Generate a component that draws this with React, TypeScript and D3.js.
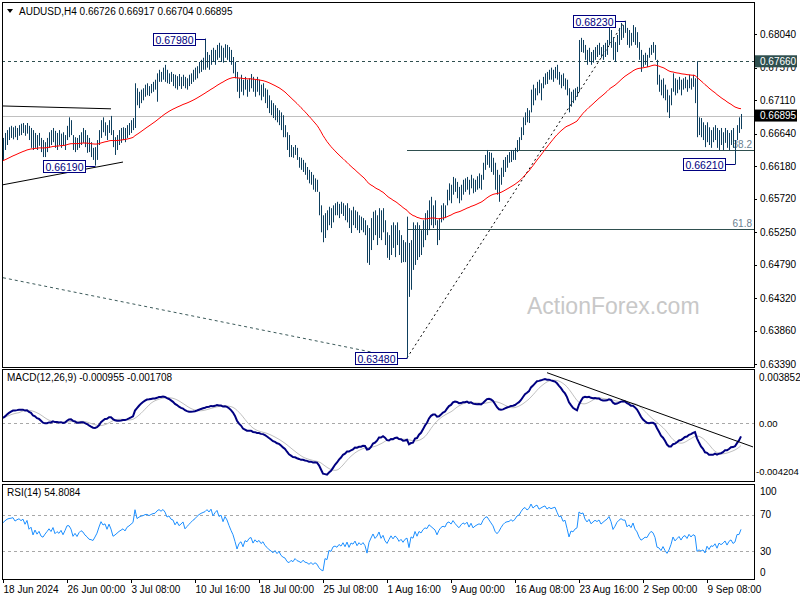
import React from "react";
import * as d3 from "d3";

// ---------- DATA (prices in 1/10000 units) ----------
const highsP = [
  6658, 6665, 6669, 6673, 6675, 6673, 6675, 6672, 6676, 6678,
  6679, 6676, 6679, 6675, 6672, 6669, 6665, 6662, 6665, 6658,
  6655, 6652, 6658, 6666, 6669, 6672, 6668, 6665, 6669, 6664,
  6666, 6662, 6675, 6687, 6683, 6662, 6659, 6658, 6662, 6666,
  6672, 6669, 6662, 6658, 6652, 6644, 6645, 6655, 6669, 6683,
  6687, 6680, 6676, 6683, 6689, 6669, 6659, 6662, 6669, 6672,
  6673, 6672, 6676, 6679, 6683, 6686, 6735, 6728, 6723, 6726,
  6728, 6733, 6735, 6731, 6734, 6737, 6740, 6749, 6754, 6751,
  6757, 6761, 6754, 6749, 6751, 6748, 6747, 6745, 6748, 6744,
  6747, 6744, 6742, 6747, 6749, 6754, 6757, 6759, 6765, 6768,
  6771, 6798, 6779, 6775, 6782, 6785, 6782, 6789, 6792, 6788,
  6785, 6790, 6789, 6786, 6782, 6772, 6765, 6751, 6742, 6747,
  6740, 6744, 6740, 6742, 6748, 6744, 6740, 6744, 6740, 6733,
  6735, 6728, 6726, 6718, 6711, 6707, 6704, 6700, 6697, 6694,
  6690, 6676, 6666, 6662, 6648, 6645, 6648, 6644, 6631, 6630,
  6627, 6623, 6617, 6613, 6610, 6606, 6601, 6599, 6582, 6563,
  6549, 6552, 6556, 6561, 6559, 6563, 6566, 6568, 6565, 6568,
  6566, 6563, 6566, 6559, 6556, 6561, 6556, 6554, 6549, 6547,
  6545, 6542, 6535, 6531, 6545, 6554, 6556, 6549, 6559, 6556,
  6559, 6542, 6525, 6521, 6535, 6539, 6535, 6539, 6528, 6521,
  6514, 6511, 6547, 6510, 6514, 6539, 6535, 6539, 6535, 6528,
  6542, 6552, 6556, 6570, 6575, 6563, 6570, 6542, 6545, 6563,
  6566, 6563, 6585, 6594, 6592, 6603, 6601, 6596, 6589, 6592,
  6599, 6601, 6603, 6599, 6606, 6601, 6599, 6604, 6608, 6606,
  6623, 6634, 6641, 6638, 6637, 6630, 6623, 6613, 6606, 6616,
  6627, 6631, 6634, 6638, 6641, 6641, 6644, 6655, 6659, 6673,
  6687, 6694, 6700, 6697, 6726, 6733, 6728, 6737, 6740, 6735,
  6744, 6749, 6751, 6754, 6757, 6754, 6758, 6761, 6751, 6747,
  6749, 6742, 6740, 6728, 6723, 6726, 6728, 6730, 6796, 6799,
  6796, 6789, 6782, 6785, 6779, 6782, 6786, 6789, 6792, 6786,
  6789, 6792, 6796, 6817, 6810, 6800, 6793, 6803, 6813, 6820,
  6817, 6823, 6813, 6810, 6806, 6817, 6814, 6807, 6793, 6782,
  6775, 6778, 6775, 6785, 6789, 6793, 6789, 6768, 6747, 6740,
  6742, 6733, 6726, 6718, 6728, 6749, 6742, 6740, 6744, 6740,
  6742, 6744, 6740, 6747, 6742, 6747, 6742, 6766, 6687, 6686,
  6680, 6676, 6680, 6673, 6669, 6673, 6676, 6672, 6669, 6672,
  6666, 6672, 6669, 6665, 6669, 6672, 6655, 6676, 6687, 6691.7,
];

const lowsP = [
  6627, 6641, 6648, 6655, 6658, 6656, 6659, 6655, 6661, 6662,
  6665, 6661, 6664, 6655, 6644, 6641, 6644, 6641, 6647, 6638,
  6631, 6631, 6638, 6644, 6648, 6652, 6644, 6641, 6648, 6644,
  6647, 6641, 6655, 6659, 6662, 6641, 6638, 6641, 6644, 6648,
  6651, 6645, 6637, 6638, 6631, 6627, 6619, 6627, 6648, 6658,
  6666, 6661, 6655, 6665, 6662, 6645, 6634, 6641, 6648, 6651,
  6655, 6652, 6658, 6662, 6665, 6669, 6672, 6704, 6700, 6707,
  6711, 6716, 6718, 6717, 6721, 6723, 6726, 6709, 6737, 6737,
  6740, 6737, 6735, 6734, 6737, 6731, 6728, 6726, 6731, 6727,
  6731, 6728, 6726, 6731, 6734, 6737, 6740, 6742, 6749, 6751,
  6754, 6754, 6757, 6754, 6761, 6765, 6761, 6768, 6771, 6765,
  6764, 6771, 6768, 6765, 6761, 6749, 6742, 6723, 6714, 6723,
  6718, 6726, 6716, 6723, 6728, 6723, 6716, 6723, 6718, 6711,
  6716, 6707, 6700, 6693, 6690, 6686, 6683, 6680, 6676, 6669,
  6659, 6659, 6641, 6631, 6631, 6630, 6634, 6627, 6616, 6613,
  6610, 6606, 6599, 6594, 6592, 6585, 6582, 6582, 6549, 6525,
  6511, 6517, 6528, 6535, 6531, 6539, 6549, 6549, 6545, 6551,
  6548, 6542, 6539, 6531, 6524, 6535, 6531, 6528, 6524, 6528,
  6525, 6521, 6482, 6479, 6500, 6514, 6521, 6507, 6517, 6514,
  6525, 6507, 6489, 6486, 6493, 6503, 6490, 6507, 6493, 6482,
  6483, 6483, 6348, 6434, 6444, 6472, 6479, 6486, 6490, 6493,
  6504, 6514, 6521, 6528, 6535, 6531, 6535, 6507, 6514, 6539,
  6542, 6545, 6563, 6570, 6566, 6578, 6582, 6573, 6566, 6570,
  6578, 6582, 6585, 6578, 6587, 6580, 6582, 6585, 6587, 6585,
  6599, 6613, 6620, 6616, 6610, 6606, 6585, 6578, 6568, 6592,
  6603, 6610, 6616, 6623, 6624, 6627, 6627, 6638, 6641, 6655,
  6662, 6676, 6680, 6679, 6694, 6704, 6711, 6718, 6721, 6711,
  6728, 6733, 6734, 6740, 6740, 6737, 6742, 6740, 6733, 6728,
  6731, 6726, 6718, 6694, 6702, 6707, 6711, 6716, 6723, 6779,
  6778, 6768, 6761, 6765, 6761, 6764, 6768, 6772, 6775, 6771,
  6768, 6772, 6775, 6789, 6785, 6768, 6765, 6779, 6789, 6796,
  6799, 6806, 6789, 6785, 6788, 6793, 6789, 6785, 6768, 6751,
  6758, 6761, 6758, 6771, 6775, 6778, 6768, 6733, 6723, 6718,
  6714, 6711, 6694, 6686, 6704, 6723, 6718, 6721, 6726, 6718,
  6726, 6728, 6723, 6728, 6726, 6730, 6707, 6659, 6662, 6659,
  6655, 6645, 6652, 6648, 6644, 6652, 6655, 6644, 6641, 6648,
  6641, 6651, 6644, 6641, 6648, 6644, 6621, 6655, 6665, 6670.4,
];

const closesP = [
  6652, 6659, 6665, 6668, 6669, 6671, 6665, 6669, 6672, 6669,
  6673, 6665, 6675, 6659, 6664, 6647, 6659, 6649, 6656, 6644,
  6641, 6648, 6654, 6661, 6655, 6665, 6651, 6656, 6652, 6659,
  6649, 6659, 6672, 6672, 6665, 6648, 6655, 6647, 6656, 6661,
  6658, 6651, 6647, 6641, 6640, 6638, 6644, 6651, 6664, 6678,
  6672, 6675, 6665, 6678, 6668, 6651, 6654, 6658, 6662, 6665,
  6668, 6664, 6672, 6675, 6679, 6683, 6728, 6711, 6717, 6721,
  6723, 6727, 6728, 6726, 6730, 6733, 6734, 6742, 6747, 6745,
  6751, 6748, 6742, 6745, 6741, 6740, 6734, 6740, 6735, 6738,
  6742, 6733, 6737, 6741, 6745, 6749, 6752, 6757, 6761, 6764,
  6766, 6768, 6773, 6771, 6778, 6772, 6779, 6785, 6779, 6782,
  6775, 6786, 6782, 6775, 6768, 6761, 6748, 6728, 6737, 6740,
  6726, 6737, 6734, 6740, 6742, 6728, 6734, 6728, 6731, 6723,
  6726, 6716, 6711, 6704, 6700, 6694, 6697, 6687, 6690, 6676,
  6669, 6665, 6648, 6641, 6644, 6637, 6641, 6631, 6627, 6620,
  6623, 6613, 6610, 6601, 6603, 6592, 6594, 6586, 6559, 6535,
  6521, 6542, 6535, 6554, 6549, 6559, 6561, 6556, 6562, 6556,
  6563, 6549, 6559, 6539, 6549, 6545, 6552, 6535, 6542, 6534,
  6539, 6528, 6493, 6521, 6535, 6549, 6531, 6539, 6554, 6528,
  6539, 6514, 6500, 6514, 6528, 6514, 6525, 6517, 6500, 6507,
  6493, 6503, 6507, 6458, 6500, 6493, 6525, 6500, 6525, 6517,
  6535, 6545, 6542, 6563, 6556, 6549, 6542, 6521, 6542, 6556,
  6562, 6559, 6580, 6585, 6578, 6596, 6587, 6579, 6573, 6585,
  6594, 6590, 6599, 6585, 6601, 6587, 6594, 6599, 6603, 6601,
  6618, 6630, 6634, 6627, 6620, 6613, 6599, 6592, 6599, 6610,
  6620, 6627, 6630, 6631, 6637, 6634, 6641, 6652, 6655, 6669,
  6683, 6690, 6686, 6694, 6721, 6714, 6726, 6733, 6726, 6733,
  6740, 6745, 6740, 6749, 6747, 6751, 6754, 6747, 6740, 6742,
  6734, 6737, 6723, 6704, 6718, 6716, 6723, 6726, 6789, 6785,
  6789, 6775, 6768, 6779, 6768, 6775, 6782, 6779, 6785, 6776,
  6782, 6788, 6793, 6803, 6793, 6775, 6785, 6799, 6807, 6813,
  6810, 6810, 6796, 6802, 6796, 6810, 6796, 6789, 6775, 6765,
  6768, 6772, 6771, 6779, 6785, 6782, 6771, 6740, 6737, 6726,
  6734, 6718, 6704, 6711, 6723, 6742, 6728, 6734, 6740, 6728,
  6737, 6740, 6731, 6742, 6734, 6740, 6737, 6672, 6676, 6669,
  6672, 6655, 6672, 6655, 6665, 6662, 6669, 6648, 6662, 6655,
  6659, 6665, 6648, 6658, 6662, 6648, 6652, 6673, 6673, 6689.5,
];

const timeLabels = [
  "18 Jun 2024", "26 Jun 00:00", "3 Jul 08:00", "10 Jul 16:00", "18 Jul 00:00",
  "25 Jul 08:00", "1 Aug 16:00", "9 Aug 00:00", "16 Aug 08:00", "23 Aug 16:00",
  "2 Sep 00:00", "9 Sep 08:00",
];
const timeLabelBars = [0, 32, 64, 96, 128, 160, 192, 224, 256, 288, 320, 352];

const priceTicks = [0.6804, 0.6757, 0.6711, 0.6664, 0.6618, 0.6572, 0.6525, 0.6479, 0.6432, 0.6386, 0.6339];
const priceTickLabels = ["0.68040", "0.67570", "0.67110", "0.66640", "0.66180", "0.65720", "0.65250", "0.64790", "0.64320", "0.63860", "0.63390"];

const headerText = "AUDUSD,H4  0.66726 0.66917 0.66704 0.66895";
const macdTitle = "MACD(12,26,9) -0.000955 -0.001708";
const rsiTitle = "RSI(14) 54.8084";

const macdMax = 0.003852;
const macdMin = -0.004204;
const macdAxisValues = [0.003852, 0, -0.004204];
const macdAxisLabels = ["0.003852", "0.00", "-0.004204"];
const rsiAxisValues = [100, 70, 30, 0];
const rsiLevels = [70, 30];

const callouts = [
  { bar: 101, price: 0.6798, label: "0.67980" },
  { bar: 46, price: 0.6619, label: "0.66190" },
  { bar: 311, price: 0.6823, label: "0.68230" },
  { bar: 366, price: 0.6621, label: "0.66210" },
  { bar: 202, price: 0.6348, label: "0.63480" },
];
const fibStartBar = 202;
const fibLevels = [
  { price: 0.66416, label: "38.2" },
  { price: 0.65294, label: "61.8" },
];
const resistanceLevel = 0.6766;
const resistanceLabel = "0.67660";
const lastClose = 0.66895;
const lastCloseLabel = "0.66895";

const upperWedge: [number, number][] = [[0, 0.6703], [54, 0.6699]];
const lowerWedge: [number, number][] = [[0, 0.6592], [60, 0.6624]];
const riseLine: [number, number][] = [[202, 0.6348], [311, 0.6823]];
const longDashed: [number, number][] = [[0, 0.6461], [197, 0.6349]];
const macdTrend: [number, number][] = [[272, 0.0038], [375, -0.00179]];

const emaPeriod = 55;
const emaSeed = 0.6625;
const ema12Seed = 0.6638;
const ema26Seed = 0.6635;
const rsiSeedGain = 0.0006;
const rsiSeedLoss = 0.00038;

// ---------- helpers ----------
const FONT = "'Liberation Sans', Arial, sans-serif";

function emaSeries(vals: number[], period: number, seed: number) {
  const k = 2 / (period + 1);
  let e = seed;
  return vals.map((v) => (e = e + k * (v - e)));
}

export default function App() {
  const highs = highsP.map((v) => v / 10000);
  const lows = lowsP.map((v) => v / 10000);
  const closes = closesP.map((v) => v / 10000);
  const n = closes.length;

  // indicators
  const ema55 = emaSeries(closes, emaPeriod, emaSeed);
  const e12 = emaSeries(closes, 12, ema12Seed);
  const e26 = emaSeries(closes, 26, ema26Seed);
  const macd = e12.map((v, i) => v - e26[i]);
  const signal = macd.map((_, i) => d3.mean(macd.slice(Math.max(0, i - 8), i + 1)) as number);
  let ag = rsiSeedGain;
  let al = rsiSeedLoss;
  const rsi = closes.map((c, i) => {
    if (i > 0) {
      const ch = c - closes[i - 1];
      ag = (ag * 13 + Math.max(ch, 0)) / 14;
      al = (al * 13 + Math.max(-ch, 0)) / 14;
    }
    return al === 0 ? 100 : 100 - 100 / (1 + ag / al);
  });

  // scales
  const x = d3.scaleLinear().domain([0, n - 1]).range([3, 3 + 2 * (n - 1)]);
  const y = d3.scaleLinear().domain([0.6339, 0.6804]).range([364.3, 34.3]);
  const yM = d3.scaleLinear().domain([macdMin, macdMax]).range([479, 372]);
  const yR = d3.scaleLinear().domain([0, 100]).range([579, 487]);

  const L = 2, R = 754;
  const mainTop = 2, mainBot = 367;
  const macdTop = 369, macdBot = 481;
  const rsiTop = 484, rsiBot = 579;

  const xc = (i: number) => Math.round(x(i)) + 0.5;

  const lineP = d3.line<number>().x((_, i) => x(i)).y((v) => y(v));
  const lineM = d3.line<number>().x((_, i) => x(i)).y((v) => yM(v));
  const lineR = d3.line<number>().x((_, i) => x(i)).y((v) => yR(v));
  const segP = d3.line<[number, number]>().x((d) => x(d[0])).y((d) => y(d[1]));
  const segM = d3.line<[number, number]>().x((d) => x(d[0])).y((d) => yM(d[1]));

  const barColor = "#0e3f5e";
  const slate = "#2f4f4f";
  const navy = "#000080";

  return (
    <svg
      width={800}
      height={600}
      style={{ position: "absolute", left: 0, top: 0, background: "#fff" }}
      fontFamily={FONT}
    >
      <defs>
        <clipPath id="mainClip"><rect x={L} y={mainTop} width={R - L} height={mainBot - mainTop} /></clipPath>
        <clipPath id="macdClip"><rect x={L} y={macdTop} width={R - L} height={macdBot - macdTop} /></clipPath>
        <clipPath id="rsiClip"><rect x={L} y={rsiTop} width={R - L} height={rsiBot - rsiTop} /></clipPath>
      </defs>
      <rect x={0} y={0} width={800} height={600} fill="#fff" />

      {/* ---------- MAIN PANEL ---------- */}
      <g clipPath="url(#mainClip)">
        <text x={527} y={313.5} fontSize={23} fill="#c8c8c8">ActionForex.com</text>

        <line x1={L} x2={R} y1={Math.round(y(lastClose)) + 0.5} y2={Math.round(y(lastClose)) + 0.5} stroke="#c0c0c0" />
        <line x1={L} x2={R} y1={Math.round(y(resistanceLevel)) + 0.5} y2={Math.round(y(resistanceLevel)) + 0.5} stroke={slate} strokeDasharray="3,3" />
        {fibLevels.map((f) => (
          <g key={f.label}>
            <line x1={x(fibStartBar)} x2={R} y1={Math.round(y(f.price)) + 0.5} y2={Math.round(y(f.price)) + 0.5} stroke={slate} />
            <text x={R - 2} y={y(f.price) - 2} fontSize={10} fill="#6a8090" textAnchor="end">{f.label}</text>
          </g>
        ))}

        <path d={segP(upperWedge) || ""} stroke="#000" fill="none" />
        <path d={segP(lowerWedge) || ""} stroke="#000" fill="none" />
        <path d={segP(longDashed) || ""} stroke="#3c5a5a" fill="none" strokeDasharray="3,3" />
        <path d={segP(riseLine) || ""} stroke="#000" fill="none" strokeDasharray="2,3" />

        {closes.map((_, i) => (
          <line key={i} x1={xc(i)} x2={xc(i)} y1={y(highs[i])} y2={y(lows[i])} stroke={barColor} strokeWidth={1} />
        ))}

        <path d={lineP(ema55) || ""} stroke="#ff0000" fill="none" strokeWidth={1} />

        {callouts.map((c) => {
          const bx = xc(c.bar);
          const yy = Math.round(y(c.price)) + 0.5;
          const right = bx - 10;
          return (
            <g key={c.label}>
              <line x1={right} x2={bx} y1={yy} y2={yy} stroke={navy} />
              <rect x={right - 42} y={yy - 6} width={42} height={12} fill="#fff" stroke={navy} />
              <text x={right - 21} y={yy + 4} fontSize={10.5} fill={navy} textAnchor="middle">{c.label}</text>
            </g>
          );
        })}
      </g>

      {/* header */}
      <polygon points="7,9 13,9 10,13" fill="#000" />
      <text x={19} y={14.5} fontSize={10} fill="#000">{headerText}</text>

      {/* right price axis */}
      {priceTicks.map((p, k) => (
        <g key={p}>
          <line x1={R} x2={R + 3} y1={Math.round(y(p)) + 0.5} y2={Math.round(y(p)) + 0.5} stroke="#000" />
          <text x={760} y={y(p) + 3.5} fontSize={10} fill="#000">{priceTickLabels[k]}</text>
        </g>
      ))}
      <rect x={755} y={y(resistanceLevel) - 6} width={42} height={12} fill={slate} />
      <text x={760} y={y(resistanceLevel) + 3.5} fontSize={10} fill="#fff">{resistanceLabel}</text>
      <rect x={755} y={y(lastClose) - 6} width={42} height={12} fill="#000" />
      <text x={760} y={y(lastClose) + 3.5} fontSize={10} fill="#fff">{lastCloseLabel}</text>

      {/* ---------- MACD PANEL ---------- */}
      <g clipPath="url(#macdClip)">
        <line x1={L} x2={R} y1={Math.round(yM(0)) + 0.5} y2={Math.round(yM(0)) + 0.5} stroke="#a8a8a8" strokeDasharray="3,3" />
        <path d={lineM(signal) || ""} stroke="#c0c0c0" fill="none" strokeWidth={1} />
        <path d={lineM(macd) || ""} stroke={navy} fill="none" strokeWidth={2} />
        <path d={segM(macdTrend) || ""} stroke="#000" fill="none" />
      </g>
      <text x={7} y={381} fontSize={10} fill="#000">{macdTitle}</text>
      {macdAxisValues.map((v, k) => {
        const yy = k === 0 ? 377 : k === 2 ? 471 : yM(v);
        return (
          <text key={k} x={k === 2 ? 756 : 759} y={yy + 3.5} fontSize={k === 0 ? 10 : 9.5} fill="#000">{macdAxisLabels[k]}</text>
        );
      })}

      {/* ---------- RSI PANEL ---------- */}
      <g clipPath="url(#rsiClip)">
        {rsiLevels.map((lv) => (
          <line key={lv} x1={L} x2={R} y1={Math.round(yR(lv)) + 0.5} y2={Math.round(yR(lv)) + 0.5} stroke="#a8a8a8" strokeDasharray="3,3" />
        ))}
        <path d={lineR(rsi) || ""} stroke="#1e90ff" fill="none" strokeWidth={1} />
      </g>
      <text x={7} y={495.5} fontSize={10} fill="#000">{rsiTitle}</text>
      {rsiAxisValues.map((v) => {
        const yy = v === 100 ? 491 : v === 0 ? 572 : yR(v);
        return (
          <text key={v} x={760} y={yy + 3.5} fontSize={10} fill="#000">{String(v)}</text>
        );
      })}

      {/* panel borders */}
      <rect x={L + 0.5} y={mainTop + 0.5} width={R - L} height={mainBot - mainTop} fill="none" stroke="#000" />
      <rect x={L + 0.5} y={macdTop + 0.5} width={R - L} height={macdBot - macdTop} fill="none" stroke="#000" />
      <rect x={L + 0.5} y={rsiTop + 0.5} width={R - L} height={rsiBot - rsiTop} fill="none" stroke="#000" />

      {/* time axis */}
      {timeLabelBars.map((b, k) => (
        <g key={b}>
          <line x1={xc(b)} x2={xc(b)} y1={rsiBot} y2={rsiBot + 4} stroke="#000" />
          <text x={xc(b)} y={593} fontSize={10} fill="#000">{timeLabels[k]}</text>
        </g>
      ))}
    </svg>
  );
}
